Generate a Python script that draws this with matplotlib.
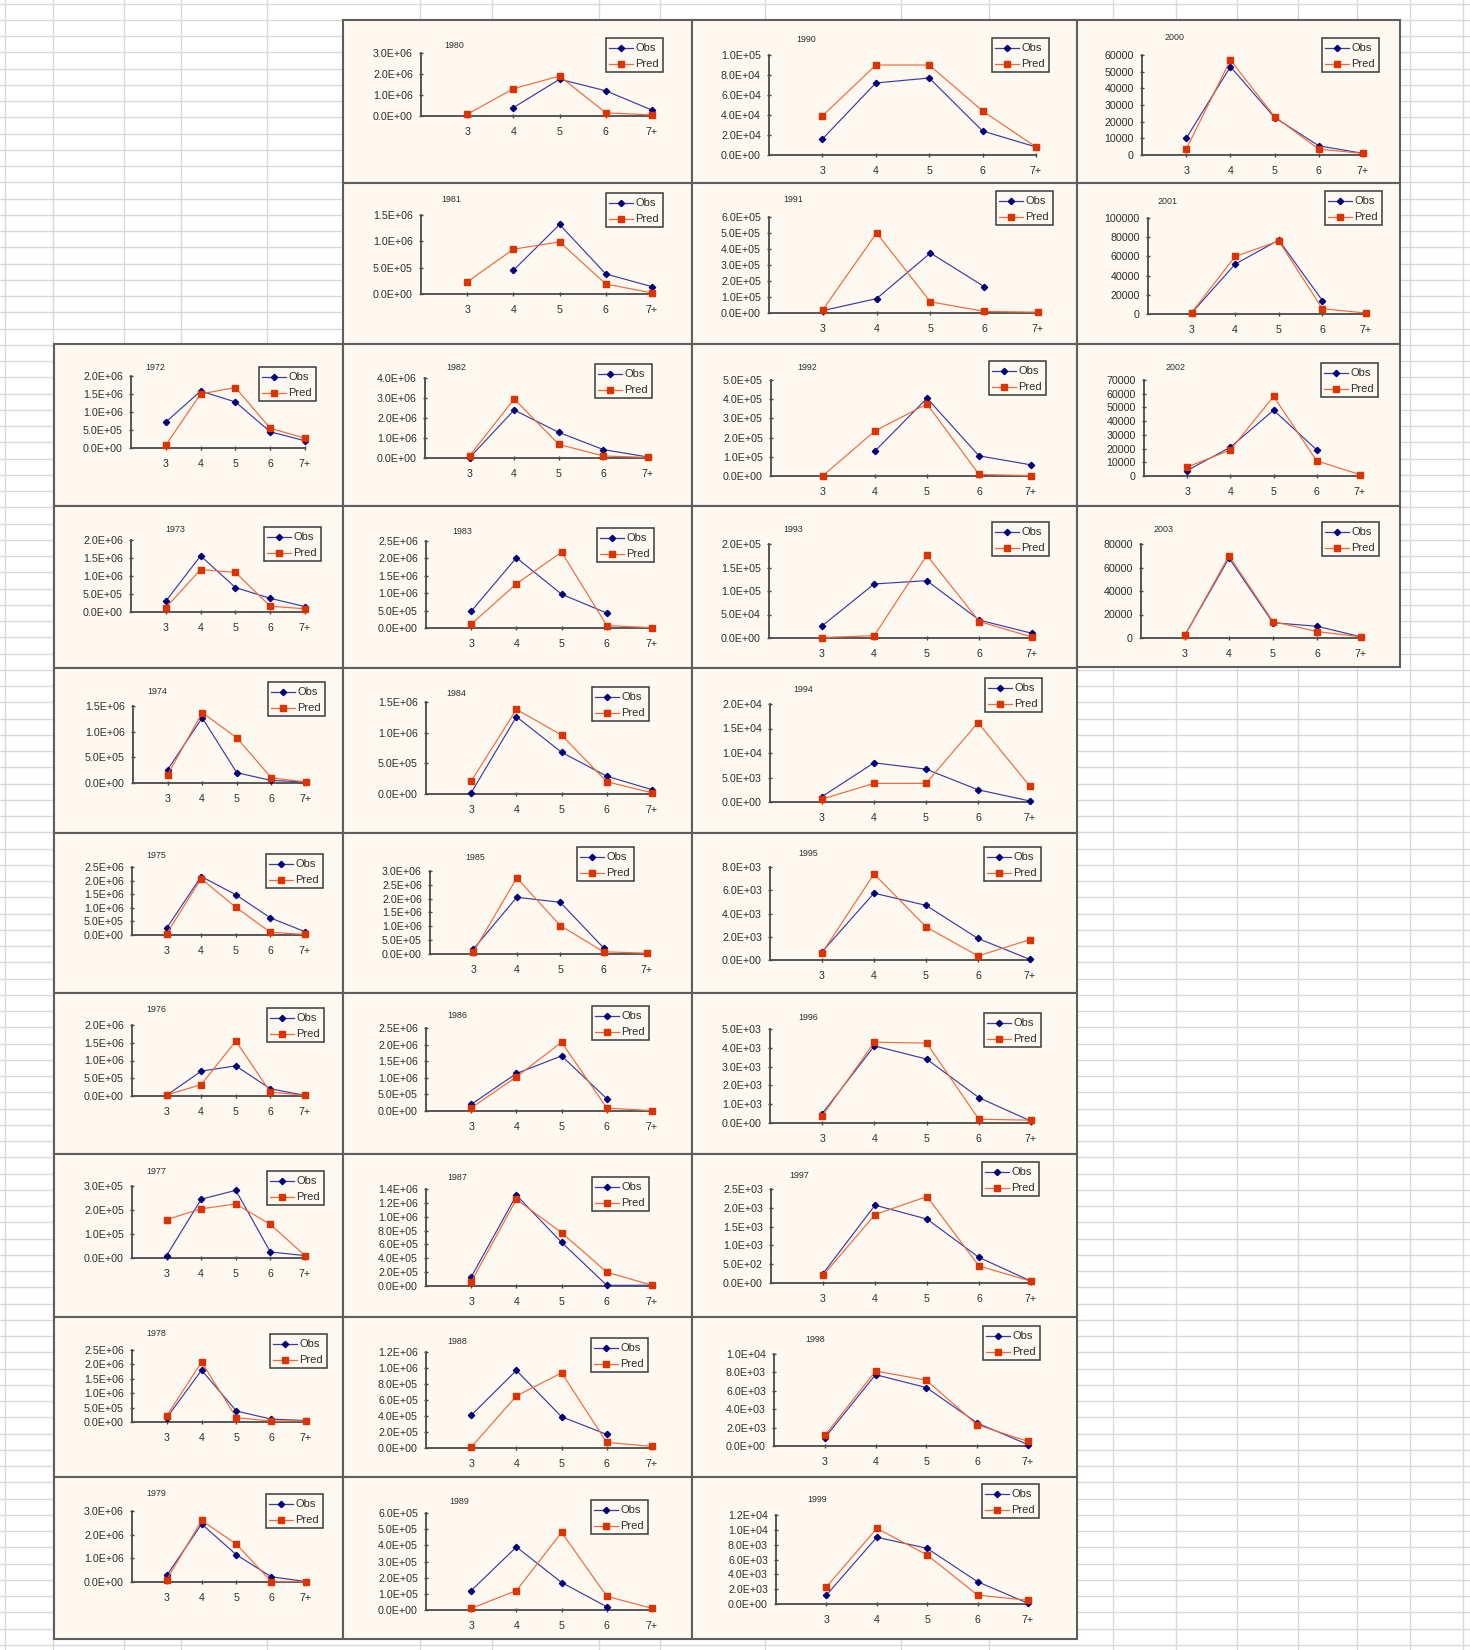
import numpy as np
import matplotlib
matplotlib.use("Agg")
import matplotlib.pyplot as plt
from matplotlib.patches import Rectangle
from matplotlib.lines import Line2D

plt.rcParams["font.family"] = ["Liberation Sans", "DejaVu Sans"]

N = np.nan

AGES = ["3", "4", "5", "6", "7+"]
YEARS = list(range(1972, 2004))

OBS = [
    [0.72e6, 1.58e6, 1.28e6, 0.45e6, 0.20e6],   # 1972
    [0.30e6, 1.56e6, 0.68e6, 0.38e6, 0.15e6],
    [0.26e6, 1.27e6, 0.20e6, 0.05e6, 0.02e6],
    [0.25e6, 2.15e6, 1.48e6, 0.63e6, 0.12e6],
    [0.02e6, 0.70e6, 0.85e6, 0.20e6, 0.02e6],
    [0.10e5, 2.45e5, 2.82e5, 0.25e5, 0.10e5],
    [0.15e6, 1.80e6, 0.38e6, 0.10e6, 0.05e6],
    [0.28e6, 2.45e6, 1.15e6, 0.22e6, 0.02e6],
    [N, 0.40e6, 1.75e6, 1.20e6, 0.28e6],        # 1980
    [N, 0.45e6, 1.32e6, 0.38e6, 0.14e6],
    [0.02e6, 2.40e6, 1.28e6, 0.42e6, 0.05e6],
    [0.48e6, 2.02e6, 0.97e6, 0.43e6, N],
    [0.02e6, 1.26e6, 0.68e6, 0.29e6, 0.07e6],
    [0.18e6, 2.05e6, 1.87e6, 0.22e6, N],
    [0.20e6, 1.13e6, 1.66e6, 0.37e6, N],
    [0.13e6, 1.31e6, 0.63e6, 0.01e6, 0.01e6],
    [0.41e6, 0.97e6, 0.39e6, 0.17e6, N],
    [1.2e5, 3.9e5, 1.7e5, 0.2e5, N],
    [1.6e4, 7.2e4, 7.7e4, 2.4e4, 0.8e4],        # 1990
    [0.15e5, 0.9e5, 3.75e5, 1.65e5, N],
    [N, 1.3e5, 4.05e5, 1.05e5, 0.58e5],
    [0.25e5, 1.15e5, 1.22e5, 0.38e5, 0.10e5],
    [1.1e3, 8.0e3, 6.7e3, 2.5e3, 0.2e3],
    [0.7e3, 5.75e3, 4.7e3, 1.85e3, 0.05e3],
    [0.5e3, 4.1e3, 3.4e3, 1.35e3, 0.1e3],
    [0.25e3, 2.07e3, 1.7e3, 0.68e3, 0.05e3],
    [0.9e3, 7.75e3, 6.35e3, 2.5e3, 0.15e3],
    [1.2e3, 9.0e3, 7.5e3, 3.0e3, 0.1e3],
    [10000, 53000, 22500, 5500, 1000],          # 2000
    [1000, 52000, 77000, 14000, N],
    [4000, 21000, 48000, 19000, N],
    [2500, 68000, 13000, 10000, 1000],
]

PRED = [
    [0.08e6, 1.50e6, 1.68e6, 0.55e6, 0.27e6],   # 1972
    [0.12e6, 1.18e6, 1.10e6, 0.16e6, 0.09e6],
    [0.16e6, 1.37e6, 0.88e6, 0.10e6, 0.02e6],
    [0.05e6, 2.07e6, 1.02e6, 0.10e6, 0.02e6],
    [0.03e6, 0.32e6, 1.55e6, 0.11e6, 0.02e6],
    [1.6e5, 2.05e5, 2.25e5, 1.40e5, 0.10e5],
    [0.22e6, 2.08e6, 0.15e6, 0.03e6, 0.04e6],
    [0.10e6, 2.60e6, 1.60e6, 0.02e6, 0.01e6],
    [0.08e6, 1.30e6, 1.90e6, 0.15e6, 0.05e6],   # 1980
    [0.23e6, 0.85e6, 0.99e6, 0.19e6, 0.02e6],
    [0.12e6, 2.95e6, 0.68e6, 0.10e6, 0.03e6],
    [0.11e6, 1.27e6, 2.18e6, 0.07e6, 0.01e6],
    [0.21e6, 1.38e6, 0.96e6, 0.20e6, 0.02e6],
    [0.08e6, 2.75e6, 1.03e6, 0.08e6, 0.03e6],
    [0.09e6, 1.03e6, 2.07e6, 0.09e6, 0.01e6],
    [0.06e6, 1.25e6, 0.77e6, 0.20e6, 0.01e6],
    [0.01e6, 0.65e6, 0.94e6, 0.07e6, 0.02e6],
    [0.1e5, 1.2e5, 4.8e5, 0.85e5, 0.1e5],
    [3.9e4, 9.0e4, 9.0e4, 4.4e4, 0.8e4],        # 1990
    [0.2e5, 5.0e5, 0.7e5, 0.1e5, 0.05e5],
    [0.02e5, 2.35e5, 3.75e5, 0.08e5, 0.02e5],
    [0.01e5, 0.05e5, 1.76e5, 0.35e5, 0.02e5],
    [0.6e3, 3.8e3, 3.8e3, 16.2e3, 3.2e3],
    [0.6e3, 7.4e3, 2.85e3, 0.35e3, 1.75e3],
    [0.38e3, 4.3e3, 4.25e3, 0.2e3, 0.15e3],
    [0.2e3, 1.82e3, 2.3e3, 0.45e3, 0.05e3],
    [1.15e3, 8.15e3, 7.15e3, 2.3e3, 0.5e3],
    [2.3e3, 10.2e3, 6.6e3, 1.2e3, 0.5e3],
    [3500, 57000, 23000, 3500, 1000],           # 2000
    [1500, 60000, 76000, 5500, 1000],
    [6500, 19000, 58000, 11000, 1000],
    [2500, 70000, 14000, 5500, 1000],
]

Y_MAX = [2e6, 2e6, 1.5e6, 2.5e6, 2e6, 3e5, 2.5e6, 3e6,
         3e6, 1.5e6, 4e6, 2.5e6, 1.5e6, 3e6, 2.5e6, 1.4e6, 1.2e6, 6e5,
         1e5, 6e5, 5e5, 2e5, 2e4, 8e3, 5e3, 2.5e3, 1e4, 1.2e4,
         60000, 100000, 70000, 80000]
Y_STEP = [5e5, 5e5, 5e5, 5e5, 5e5, 1e5, 5e5, 1e6,
          1e6, 5e5, 1e6, 5e5, 5e5, 5e5, 5e5, 2e5, 2e5, 1e5,
          2e4, 1e5, 1e5, 5e4, 5e3, 2e3, 1e3, 5e2, 2e3, 2e3,
          10000, 20000, 10000, 20000]

# ---- sheet layout, in pixels ----
W, H = 1470, 1650
DPI = 100
PT = 72 / DPI  # points per pixel

COL_X = [(54, 343), (343, 692), (692, 1077), (1077, 1400)]
ROW_Y = [20, 183, 344, 506, 668, 833, 993, 1154, 1317, 1477, 1639]

CELL = ([(0, r) for r in range(2, 10)] + [(1, r) for r in range(10)]
        + [(2, r) for r in range(10)] + [(3, r) for r in range(4)])

# plot area inside each chart box: left, right, top, bottom
PLOT_AREA = [
    (77, 251, 32, 104), (77, 251, 34, 106), (79, 252, 38, 115), (78, 251, 34, 102),
    (78, 251, 32, 103), (78, 251, 32, 104), (78, 252, 33, 105), (78, 252, 34, 105),
    (78, 309, 33, 96), (78, 309, 32, 111), (82, 305, 34, 114), (83, 309, 35, 122),
    (83, 309, 34, 126), (87, 304, 38, 121), (83, 309, 35, 118), (83, 309, 35, 132),
    (83, 309, 35, 131), (83, 309, 36, 133),
    (77, 344, 35, 135), (77, 346, 34, 130), (79, 339, 36, 132), (77, 340, 38, 132),
    (78, 338, 36, 134), (78, 338, 34, 127), (78, 339, 36, 130), (79, 339, 35, 129),
    (82, 336, 37, 129), (84, 336, 38, 127),
    (65, 286, 35, 135), (71, 289, 35, 131), (67, 283, 36, 132), (64, 284, 38, 132),
]
LEGEND_POS = [
    (205, 23), (210, 21), (214, 14), (212, 21), (213, 15), (213, 17), (216, 17), (212, 17),
    (263, 18), (263, 10), (252, 20), (254, 22), (249, 19), (234, 14), (249, 13), (249, 23),
    (248, 21), (248, 23),
    (300, 18), (304, 8), (297, 17), (300, 16), (293, 10), (292, 14), (292, 20), (290, 8),
    (291, 9), (290, 7),
    (245, 18), (248, 8), (244, 19), (245, 16),
]
TITLE_POS = [
    (101, 23), (121, 24), (103, 24), (102, 23), (102, 16), (102, 17), (102, 17), (102, 16),
    (111, 25), (108, 16), (113, 24), (119, 25), (113, 26), (132, 24), (114, 22), (114, 24),
    (114, 24), (116, 25),
    (114, 19), (101, 17), (115, 23), (101, 23), (111, 21), (116, 20), (116, 25), (107, 22),
    (123, 22), (125, 22),
    (98, 18), (91, 18), (99, 24), (87, 23),
]

SHEET_COLS = [5, 53, 124, 181, 267, 420, 492, 599, 660, 765, 901, 989,
              1113, 1176, 1237, 1298, 1357, 1410, 1463]

CHART_BG = "#fdf8f0"
BOX_EDGE = "#5e5e5e"
AXIS_COLOR = "#4a4a4a"
TEXT_COLOR = "#2e2e2e"
OBS_LINE, OBS_MARK = "#3b3ba6", "#00007c"
PRED_LINE, PRED_MARK = "#f26a3a", "#dd3300"


def fmt_tick(v, year):
    if year >= 2000:
        return f"{int(round(v))}"
    return f"{v:.1E}"


def draw_legend(sheet, x, y):
    w, h = 57, 34
    sheet.add_patch(Rectangle((x, y), w, h, facecolor=CHART_BG,
                              edgecolor="#3a3a3a", lw=1.1, zorder=4))
    rows = [("Obs", OBS_LINE, OBS_MARK, "D", 3.2), ("Pred", PRED_LINE, PRED_MARK, "s", 4.0)]
    for k, (label, lc, mc, mk, ms) in enumerate(rows):
        yy = y + 9.5 + k * 16
        sheet.add_line(Line2D([x + 3, x + 27], [yy, yy], color=lc, lw=0.9,
                              zorder=5))
        sheet.add_line(Line2D([x + 15], [yy], marker=mk, ms=ms, color=mc,
                              mec=mc, zorder=6))
        sheet.text(x + 29.5, yy + 0.5, label, fontsize=8, color=TEXT_COLOR,
                   ha="left", va="center", zorder=6)


fig = plt.figure(figsize=(W / DPI, H / DPI), dpi=DPI)
fig.patch.set_facecolor("white")

sheet = fig.add_axes([0, 0, 1, 1])
sheet.set_xlim(0, W)
sheet.set_ylim(H, 0)
sheet.axis("off")

# spreadsheet gridlines
for gy in np.arange(3.5, H, 16.25):
    sheet.axhline(gy, color="#d9d9d9", lw=1.0, zorder=0)
for gx in SHEET_COLS:
    sheet.axvline(gx, color="#d9d9d9", lw=1.0, zorder=0)

x_pos = np.arange(1, len(AGES) + 1)

for i, year in enumerate(YEARS):
    col, row = CELL[i]
    bx0, bx1 = COL_X[col]
    by0, by1 = ROW_Y[row], ROW_Y[row + 1]
    if col == 3:
        by1 = min(by1, 667)

    sheet.add_patch(Rectangle((bx0, by0), bx1 - bx0, by1 - by0, facecolor=CHART_BG,
                              edgecolor=BOX_EDGE, lw=1.5, zorder=2))

    tx, ty = TITLE_POS[i]
    sheet.text(bx0 + tx, by0 + ty, str(year), fontsize=6.4, color=TEXT_COLOR,
               ha="center", va="center", zorder=3)

    lx, ly = LEGEND_POS[i]
    draw_legend(sheet, bx0 + lx, by0 + ly)

    pl, pr, pt, pb = PLOT_AREA[i]
    ax = fig.add_axes([(bx0 + pl) / W, 1 - (by0 + pb) / H,
                       (pr - pl) / W, (pb - pt) / H])
    ax.patch.set_visible(False)

    ax.plot(x_pos, OBS[i], color=OBS_LINE, lw=0.85, marker="D", ms=3.2,
            mfc=OBS_MARK, mec=OBS_MARK, clip_on=False, zorder=3)
    ax.plot(x_pos, PRED[i], color=PRED_LINE, lw=0.85, marker="s", ms=4.0,
            mfc=PRED_MARK, mec=PRED_MARK, clip_on=False, zorder=4)

    ymax, ystep = Y_MAX[i], Y_STEP[i]
    yticks = np.arange(0, ymax + ystep / 2, ystep)
    ax.set_xlim(0, len(AGES))
    ax.set_ylim(0, ymax)
    ax.set_xticks(x_pos)
    ax.set_xticklabels(AGES)
    ax.set_yticks(yticks)
    ax.set_yticklabels([fmt_tick(v, year) for v in yticks])

    for side in ("top", "right"):
        ax.spines[side].set_visible(False)
    for side in ("left", "bottom"):
        ax.spines[side].set_color(AXIS_COLOR)
        ax.spines[side].set_linewidth(1.3)
    ax.tick_params(axis="both", direction="inout", length=5 * PT, width=1.0,
                   color=AXIS_COLOR, labelsize=7.7, labelcolor=TEXT_COLOR)
    ax.tick_params(axis="x", pad=6)
    ax.tick_params(axis="y", pad=4)

fig.savefig("out.png", dpi=DPI, facecolor="white")
